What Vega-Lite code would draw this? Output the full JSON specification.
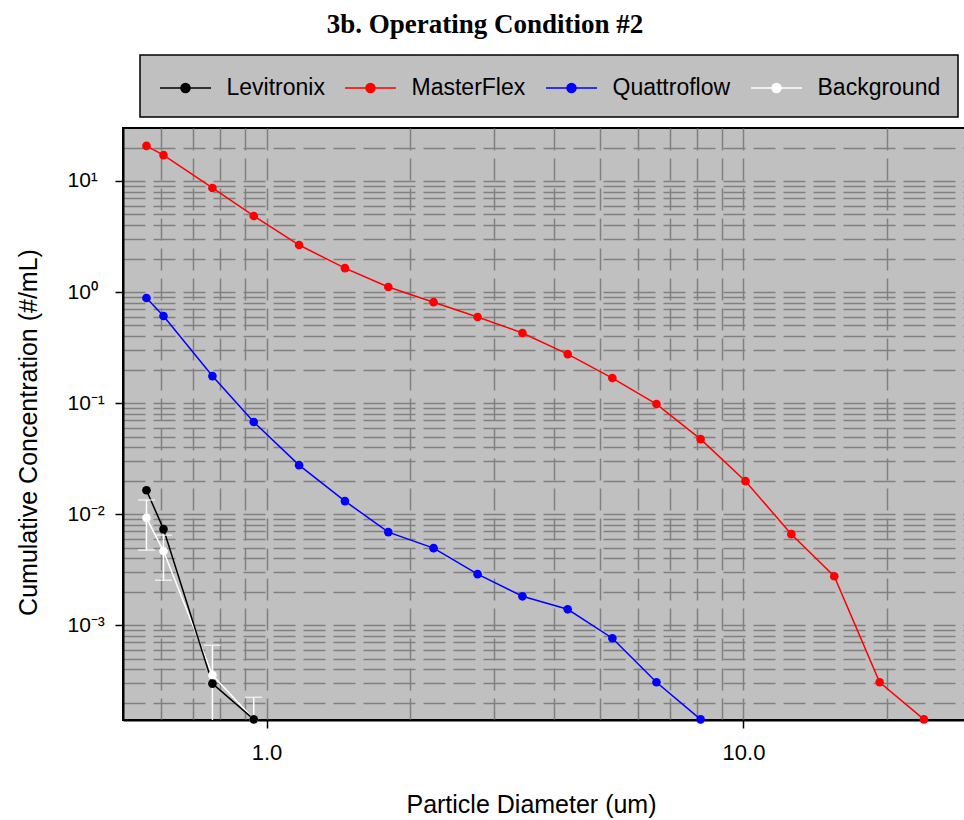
{
  "$schema": "https://vega.github.io/schema/vega-lite/v6.json",
  "width": 848,
  "height": 592,
  "autosize": {"type": "none"},
  "padding": {"left": 123, "top": 128, "right": 0, "bottom": 100},
  "background": "white",
  "config": {
    "view": {"stroke": "black", "strokeWidth": 2, "fill": "#c0c0c0"},
    "font": "Liberation Sans"
  },
  "title": {
    "text": "3b. Operating Condition #2",
    "font": "Liberation Serif",
    "fontSize": 27,
    "fontWeight": "bold",
    "color": "black",
    "anchor": "middle",
    "baseline": "alphabetic",
    "dx": -62,
    "offset": -6
  },
  "data": {
    "values": [
      {"series": "Background", "d": 0.56, "c": 0.00927, "lo": 0.00474, "hi": 0.0134},
      {"series": "Background", "d": 0.608, "c": 0.00465, "lo": 0.00254, "hi": 0.00647},
      {"series": "Background", "d": 0.77, "c": 0.000355, "lo": 0.00001, "hi": 0.00066},
      {"series": "Background", "d": 0.94, "c": 0.000142, "lo": 0.00001, "hi": 0.000224},
      {"series": "Levitronix", "d": 0.56, "c": 0.0164},
      {"series": "Levitronix", "d": 0.608, "c": 0.00733},
      {"series": "Levitronix", "d": 0.77, "c": 0.000298},
      {"series": "Levitronix", "d": 0.94, "c": 0.000142},
      {"series": "MasterFlex", "d": 0.56, "c": 20.7},
      {"series": "MasterFlex", "d": 0.608, "c": 17.1},
      {"series": "MasterFlex", "d": 0.77, "c": 8.65},
      {"series": "MasterFlex", "d": 0.94, "c": 4.84},
      {"series": "MasterFlex", "d": 1.17, "c": 2.65},
      {"series": "MasterFlex", "d": 1.46, "c": 1.64},
      {"series": "MasterFlex", "d": 1.8, "c": 1.11},
      {"series": "MasterFlex", "d": 2.24, "c": 0.81},
      {"series": "MasterFlex", "d": 2.77, "c": 0.596},
      {"series": "MasterFlex", "d": 3.44, "c": 0.428},
      {"series": "MasterFlex", "d": 4.28, "c": 0.276},
      {"series": "MasterFlex", "d": 5.31, "c": 0.168},
      {"series": "MasterFlex", "d": 6.57, "c": 0.098},
      {"series": "MasterFlex", "d": 8.13, "c": 0.0474},
      {"series": "MasterFlex", "d": 10.1, "c": 0.0198},
      {"series": "MasterFlex", "d": 12.6, "c": 0.0066},
      {"series": "MasterFlex", "d": 15.5, "c": 0.00276},
      {"series": "MasterFlex", "d": 19.3, "c": 0.000306},
      {"series": "MasterFlex", "d": 23.9, "c": 0.000142},
      {"series": "Quattroflow", "d": 0.56, "c": 0.883},
      {"series": "Quattroflow", "d": 0.608, "c": 0.608},
      {"series": "Quattroflow", "d": 0.77, "c": 0.175},
      {"series": "Quattroflow", "d": 0.94, "c": 0.0675},
      {"series": "Quattroflow", "d": 1.17, "c": 0.0276},
      {"series": "Quattroflow", "d": 1.46, "c": 0.0131},
      {"series": "Quattroflow", "d": 1.8, "c": 0.00689},
      {"series": "Quattroflow", "d": 2.24, "c": 0.00494},
      {"series": "Quattroflow", "d": 2.77, "c": 0.00288},
      {"series": "Quattroflow", "d": 3.44, "c": 0.00182},
      {"series": "Quattroflow", "d": 4.28, "c": 0.00139},
      {"series": "Quattroflow", "d": 5.31, "c": 0.000763},
      {"series": "Quattroflow", "d": 6.57, "c": 0.000306},
      {"series": "Quattroflow", "d": 8.13, "c": 0.000142}
    ]
  },
  "resolve": {"axis": {"x": "independent", "y": "independent"}},
  "layer": [
    {
      "mark": {"type": "line", "strokeWidth": 1.5, "clip": true},
      "encoding": {
        "x": {
          "field": "d", "type": "quantitative",
          "scale": {"type": "log", "domain": [0.5, 30], "nice": false},
          "axis": {
            "orient": "bottom",
            "values": [0.6, 0.7, 0.8, 0.9, 1, 2, 3, 4, 5, 6, 7, 8, 9, 10, 20],
            "grid": true, "gridColor": "#808080", "gridDash": [22, 8], "gridWidth": 1.5,
            "labels": false, "ticks": false, "domain": false, "title": null
          }
        },
        "y": {
          "field": "c", "type": "quantitative",
          "scale": {"type": "log", "domain": [0.00014, 30], "nice": false},
          "axis": {
            "orient": "left",
            "values": [0.0002, 0.0003, 0.0004, 0.0005, 0.0006, 0.0007, 0.0008, 0.0009, 0.001, 0.002, 0.003, 0.004, 0.005, 0.006, 0.007, 0.008, 0.009, 0.01, 0.02, 0.03, 0.04, 0.05, 0.06, 0.07, 0.08, 0.09, 0.1, 0.2, 0.3, 0.4, 0.5, 0.6, 0.7, 0.8, 0.9, 1, 2, 3, 4, 5, 6, 7, 8, 9, 10, 20],
            "grid": true, "gridColor": "#808080", "gridDash": [22, 8], "gridWidth": 1.5,
            "labels": false, "ticks": false, "domain": false, "title": null
          }
        },
        "color": {
          "field": "series", "type": "nominal",
          "scale": {"domain": ["Levitronix", "MasterFlex", "Quattroflow", "Background"], "range": ["black", "red", "blue", "white"]},
          "legend": {
            "orient": "none",
            "legendX": 17,
            "legendY": -73,
            "direction": "horizontal",
            "columns": 4,
            "title": null,
            "fillColor": "#c0c0c0",
            "strokeColor": "black",
            "padding": 17,
            "columnPadding": 17,
            "symbolType": "M-1.7,0H1.7M0.3,0A0.3,0.3,0,1,1,-0.3,0A0.3,0.3,0,1,1,0.3,0Z",
            "symbolSize": 900,
            "symbolOffset": 12.5,
            "symbolStrokeWidth": 1.5,
            "labelOffset": 25,
            "labelFont": "Liberation Sans",
            "labelFontSize": 23,
            "labelColor": "black",
            "labelLimit": 300,
            "encode": {
              "legend": {"update": {"strokeWidth": {"value": 1.5}}},
              "symbols": {"update": {
                "fill": {"scale": "color", "field": "value"},
                "stroke": {"scale": "color", "field": "value"},
                "strokeWidth": {"value": 1.5},
                "opacity": {"value": 1}
              }}
            }
          }
        }
      }
    },
    {
      "transform": [{"filter": "datum.series == 'Background'"}],
      "mark": {"type": "errorbar", "clip": true, "color": "white", "thickness": 1.5, "ticks": {"size": 17, "thickness": 1.5, "color": "white"}},
      "encoding": {
        "x": {"field": "d", "type": "quantitative", "axis": null},
        "y": {"field": "lo", "type": "quantitative", "axis": null},
        "y2": {"field": "hi"}
      }
    },
    {
      "mark": {"type": "point", "filled": true, "size": 75, "opacity": 1, "clip": false},
      "encoding": {
        "x": {
          "field": "d", "type": "quantitative",
          "axis": {
            "orient": "bottom",
            "values": [1, 10],
            "format": ".1f",
            "grid": false,
            "labelFont": "Liberation Sans", "labelFontSize": 22, "labelColor": "black",
            "labelPadding": 14, "labelFlush": false,
            "tickSize": 8, "tickColor": "black", "tickWidth": 1.5,
            "domainColor": "black", "domainWidth": 2,
            "title": "Particle Diameter (um)",
            "titleFont": "Liberation Sans", "titleFontSize": 25, "titleFontWeight": "normal", "titleColor": "black",
            "titleX": 408, "titleY": 84, "titleBaseline": "middle", "titleAlign": "center"
          }
        },
        "y": {
          "field": "c", "type": "quantitative",
          "axis": {
            "orient": "left",
            "values": [0.001, 0.01, 0.1, 1, 10],
            "labelExpr": "datum.value > 5 ? '10¹' : datum.value > 0.5 ? '10⁰' : datum.value > 0.05 ? '10⁻¹' : datum.value > 0.005 ? '10⁻²' : '10⁻³'",
            "grid": false,
            "labelFont": "Liberation Sans", "labelFontSize": 21, "labelColor": "black",
            "labelAlign": "left", "labelPadding": 48, "labelBaseline": "middle",
            "tickSize": 8, "tickColor": "black", "tickWidth": 1.5,
            "domainColor": "black", "domainWidth": 2,
            "title": "Cumulative Concentration (#/mL)",
            "titleFont": "Liberation Sans", "titleFontSize": 25, "titleFontWeight": "normal", "titleColor": "black",
            "titleX": -95, "titleY": 304, "titleBaseline": "middle", "titleAlign": "center", "titleAngle": -90
          }
        },
        "color": {"field": "series", "type": "nominal"}
      }
    }
  ]
}
